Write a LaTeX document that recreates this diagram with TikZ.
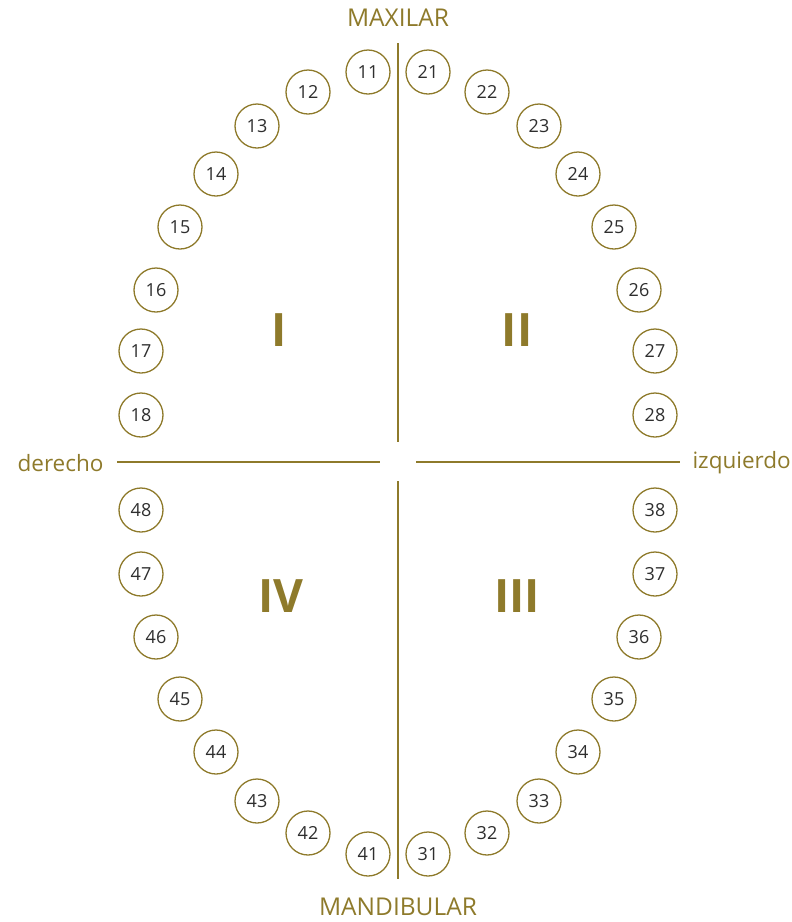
\documentclass[tikz,border=0pt]{standalone}
\usepackage{fontspec}
\setmainfont{Open Sans}
\definecolor{gold}{HTML}{8E7A2B}
\definecolor{numgray}{HTML}{2E2E2E}
\begin{document}
\begin{tikzpicture}[x=1pt,y=-1pt,
  tooth/.style={circle,draw=gold,line width=1.3pt,minimum size=44pt,inner sep=0pt,text=numgray,font=\fontsize{18}{18}\selectfont},
  axis/.style={draw=gold,line width=1.2pt},
  lbl/.style={text=gold,font=\fontsize{22.5}{22.5}\selectfont},
  caplbl/.style={text=gold,font=\fontsize{24.5}{24.5}\selectfont},
  quad/.style={text=gold,font=\fontsize{46}{46}\selectfont\bfseries}]
\useasboundingbox (0,0) rectangle (792,922);
\foreach \n/\x/\y in {11/368/72,12/308/92,13/257/126,14/216/174,15/180/227,16/156/290,17/141/351,18/141/415,
  21/428/72,22/487/92,23/539/126,24/578/174,25/614/227,26/639/290,27/655/351,28/655/415,
  48/141/510,47/141/574,46/156/637,45/180/699,44/216/752,43/257/801,42/308/833,41/368/854,
  38/655/510,37/655/574,36/639/637,35/614/699,34/578/752,33/539/801,32/487/833,31/428/854}
  \node[tooth] (t\n) at (\x,\y) {\n};
\coordinate (vt1) at (398,43);
\coordinate (vb1) at (398,442);
\coordinate (vt2) at (398,481);
\coordinate (vb2) at (398,879);
\coordinate (hl1) at (117,462);
\coordinate (hr1) at (380,462);
\coordinate (hl2) at (416,462);
\coordinate (hr2) at (680,462);
\draw[axis] (vt1) -- (vb1);
\draw[axis] (vt2) -- (vb2);
\draw[axis] (hl1) -- (hr1);
\draw[axis] (hl2) -- (hr2);
\node[caplbl] (max) at (398,18) {MAXILAR};
\node[caplbl] (man) at (398,907) {MANDIBULAR};
\node[lbl,anchor=east] (der) at (107,463) {derecho};
\node[lbl,anchor=west] (izq) at (689,463) {izquierdo};
\node[quad] (q1) at (279,330) {I};
\node[quad] (q2) at (517,330) {II};
\node[quad] (q3) at (517,596) {III};
\node[quad] (q4) at (281,596) {IV};
\end{tikzpicture}
\end{document}
